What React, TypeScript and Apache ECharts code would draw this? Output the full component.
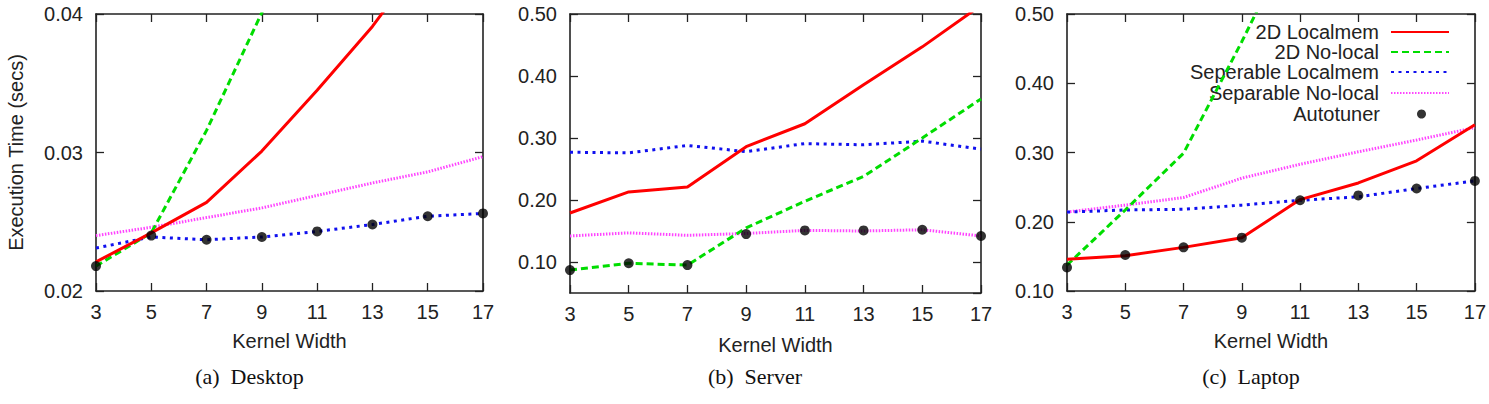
import React, { useEffect, useRef } from "react";
import * as echarts from "echarts";

const kernelWidths = ["3", "5", "7", "9", "11", "13", "15", "17"];

const seriesNames = [
  "2D Localmem",
  "2D No-local",
  "Seperable Localmem",
  "Separable No-local",
  "Autotuner",
];

// (a) Desktop
const desktop2DLocal = [0.0221, 0.0242, 0.0264, 0.0301, 0.0345, 0.0391, 0.0445, 0.05];
const desktop2DNoLocal = [0.0218, 0.0242, 0.0316, 0.0401, 0.049, 0.058, 0.068, 0.078];
const desktopSepLocal = [0.0231, 0.0239, 0.0237, 0.0239, 0.0243, 0.0248, 0.0254, 0.0256];
const desktopSepNoLocal = [0.024, 0.0246, 0.0253, 0.026, 0.0269, 0.0278, 0.0286, 0.0297];
const desktopAuto = [0.0218, 0.024, 0.0237, 0.0239, 0.0243, 0.0248, 0.0254, 0.0256];

// (b) Server
const server2DLocal = [0.179, 0.213, 0.221, 0.286, 0.323, 0.386, 0.447, 0.514];
const server2DNoLocal = [0.087, 0.098, 0.095, 0.155, 0.198, 0.238, 0.3, 0.363];
const serverSepLocal = [0.277, 0.276, 0.288, 0.278, 0.291, 0.289, 0.295, 0.282];
const serverSepNoLocal = [0.142, 0.147, 0.143, 0.146, 0.151, 0.15, 0.152, 0.142];
const serverAuto = [0.087, 0.098, 0.095, 0.145, 0.151, 0.151, 0.152, 0.142];

// (c) Laptop
const laptop2DLocal = [0.146, 0.151, 0.163, 0.177, 0.232, 0.256, 0.288, 0.34];
const laptop2DNoLocal = [0.1375, 0.217, 0.299, 0.46, 0.63, 0.8, 0.98, 1.17];
const laptopSepLocal = [0.214, 0.217, 0.218, 0.224, 0.231, 0.236, 0.248, 0.259];
const laptopSepNoLocal = [0.214, 0.224, 0.235, 0.263, 0.283, 0.301, 0.318, 0.336];
const laptopAuto = [0.134, 0.152, 0.163, 0.177, 0.231, 0.238, 0.248, 0.259];

const captions = ["(a)  Desktop", "(b)  Server", "(c)  Laptop"];

const SANS = "Liberation Sans, Arial, sans-serif";
const SERIF = "Liberation Serif, Times New Roman, serif";
const TEXT = "#222";
const AXIS = "#222";

const lineStyles = [
  { color: "#ff0000", type: "solid" as any },
  { color: "#00dd00", type: [7, 4] as any },
  { color: "#1010ee", type: [3, 4.5] as any },
  { color: "#ff44ff", type: [1.5, 1.5] as any },
];

export default function App() {
  const ref = useRef<HTMLDivElement>(null);

  useEffect(() => {
    if (!ref.current) return;
    const chart = echarts.init(ref.current, null, { renderer: "svg" });

    const grids = [
      { left: 96, top: 14, width: 387, height: 277 },
      { left: 570, top: 14, width: 411, height: 279 },
      { left: 1067, top: 14, width: 408, height: 277 },
    ];

    const yRanges = [
      { min: 0.02, max: 0.04, interval: 0.01 },
      { min: 0.05, max: 0.5 },
      { min: 0.1, max: 0.5, interval: 0.1 },
    ];

    const panelData = [
      [desktop2DLocal, desktop2DNoLocal, desktopSepLocal, desktopSepNoLocal, desktopAuto],
      [server2DLocal, server2DNoLocal, serverSepLocal, serverSepNoLocal, serverAuto],
      [laptop2DLocal, laptop2DNoLocal, laptopSepLocal, laptopSepNoLocal, laptopAuto],
    ];

    const xAxes: any[] = [];
    const yAxes: any[] = [];
    const series: any[] = [];

    grids.forEach((g, i) => {
      const tick = { show: true, inside: true, length: 8, lineStyle: { color: AXIS, width: 1.3 } };
      const axisLine = { show: true, lineStyle: { color: AXIS, width: 1.6 } };
      xAxes.push({
        type: "category",
        gridIndex: i,
        data: kernelWidths,
        boundaryGap: false,
        position: "bottom",
        axisLine,
        axisTick: tick,
        axisLabel: { color: TEXT, fontSize: 20, fontFamily: SANS, margin: 11 },
        splitLine: { show: false },
        name: "Kernel Width",
        nameLocation: "middle",
        nameGap: i === 1 ? 42 : 40,
        nameTextStyle: { color: TEXT, fontSize: 20, fontFamily: SANS },
      });
      xAxes.push({
        type: "category",
        gridIndex: i,
        data: kernelWidths,
        boundaryGap: false,
        position: "top",
        axisLine,
        axisTick: tick,
        axisLabel: { show: false },
        splitLine: { show: false },
      });
      const yr = yRanges[i];
      yAxes.push({
        type: "value",
        gridIndex: i,
        position: "left",
        ...yr,
        axisLine,
        axisTick: tick,
        axisLabel: {
          color: TEXT,
          fontSize: 20,
          fontFamily: SANS,
          margin: 13,
          showMinLabel: i !== 1,
          formatter: (v: number) => v.toFixed(2),
        },
        splitLine: { show: false },
        ...(i === 0
          ? {
              name: "Execution Time (secs)",
              nameLocation: "middle",
              nameGap: 70,
              nameTextStyle: { color: TEXT, fontSize: 20, fontFamily: SANS },
            }
          : {}),
      });
      yAxes.push({
        type: "value",
        gridIndex: i,
        position: "right",
        ...yr,
        axisLine,
        axisTick: tick,
        axisLabel: { show: false },
        splitLine: { show: false },
      });

      const data = panelData[i];
      for (let s = 0; s < 4; s++) {
        series.push({
          type: "line",
          name: seriesNames[s],
          xAxisIndex: i * 2,
          yAxisIndex: i * 2,
          data: data[s],
          symbol: "none",
          clip: true,
          z: 2 + (3 - s),
          lineStyle: { width: 3, ...lineStyles[s] },
          itemStyle: { color: lineStyles[s].color },
        });
      }
      series.push({
        type: "scatter",
        name: seriesNames[4],
        xAxisIndex: i * 2,
        yAxisIndex: i * 2,
        data: data[4],
        symbol: "circle",
        symbolSize: 10,
        clip: false,
        z: 10,
        itemStyle: { color: "#000" },
      });
    });

    const rowCenters = [33, 53, 73, 94, 115];
    const legends = seriesNames.map((n, k) => {
      const isDot = k === 4;
      return {
        data: [n],
        orient: "horizontal",
        right: isDot ? 63 : 39,
        top: rowCenters[k] - 11,
        align: "right",
        itemWidth: isDot ? 9 : 58,
        itemHeight: isDot ? 9 : 14,
        itemGap: 0,
        padding: [0, 0, 0, 0],
        selectedMode: false,
        textStyle: {
          color: TEXT,
          fontSize: 20,
          fontFamily: SANS,
          padding: [0, isDot ? 32 : 7, 0, 0],
        },
        ...(isDot ? { icon: "circle" } : { itemStyle: { opacity: 0 } }),
      };
    });

    const captionX = [249.5, 755, 1251];
    const graphic = captions.map((c, i) => ({
      type: "text",
      x: captionX[i],
      y: 376,
      style: {
        text: c,
        fill: "#111",
        font: `22px ${SERIF}`,
        textAlign: "center",
        textVerticalAlign: "middle",
      },
    }));

    chart.setOption({
      animation: false,
      backgroundColor: "#fff",
      grid: grids,
      xAxis: xAxes,
      yAxis: yAxes,
      legend: legends,
      series,
      graphic,
    });

    return () => chart.dispose();
  }, []);

  return (
    <div
      ref={ref}
      style={{ position: "absolute", left: 0, top: 0, width: 1489, height: 404 }}
    />
  );
}
